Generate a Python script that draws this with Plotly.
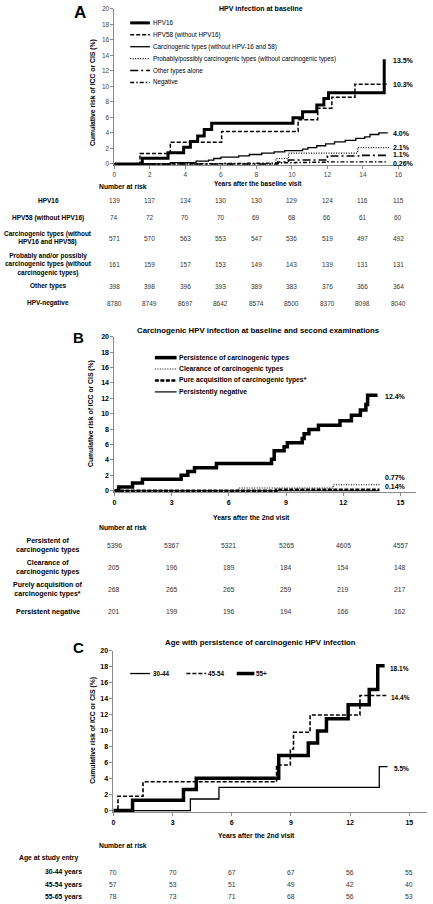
import plotly.graph_objects as go

W, H = 433, 904
FONT = "Liberation Sans"


def px(x):
    return x / W


def py(y):
    return 1 - y / H

# ---------------- Panel A data ----------------
a_ticks = [0, 2, 4, 6, 8, 10, 12, 14, 16]
a_series_names = ["HPV16", "HPV58 (without HPV16)", "Carcinogenic types (without HPV-16 and 58)",
                  "Probably/possibly carcinogenic types (without carcinogenic types)",
                  "Other types alone", "Negative"]
hpv16_t = [0, 1.57, 3.02, 3.9, 4.28, 4.69, 5.06, 5.48, 10.06, 10.6, 11.4, 11.8, 12.06, 15.2]
hpv16_r = [0, 0.72, 1.44, 2.16, 2.88, 3.6, 4.45, 5.25, 5.95, 6.75, 7.6, 8.45, 9.2, 13.5]
hpv58_t = [0, 1.44, 3.15, 6.04, 10.35, 11.45, 12.25, 13.55, 15.35]
hpv58_r = [0, 1.35, 2.8, 4.2, 5.7, 7.2, 8.6, 10.3, 10.3]
carc_t = [0, 3.15, 4.6, 5.3, 5.6, 6.0, 7.0, 7.6, 8.3, 9.0, 9.6, 10.6, 10.9, 11.4, 11.9, 12.4, 13.0, 13.6, 14.1, 14.4, 14.9, 15.4]
carc_r = [0, 0.18, 0.35, 0.5, 0.7, 0.88, 1.05, 1.22, 1.4, 1.55, 1.72, 1.9, 2.1, 2.35, 2.6, 2.85, 3.05, 3.3, 3.5, 3.8, 4.0, 4.0]
prob_t = [0, 9.1, 9.8, 13.7, 15.5]
prob_r = [0, 0.7, 1.4, 2.1, 2.1]
other_t = [0, 9.2, 9.8, 11.9, 12.0, 13.9, 15.4]
other_r = [0, 0.25, 0.5, 0.76, 1.02, 1.1, 1.1]
neg_t = [0, 3.2, 4.5, 6.2, 7.5, 8.6, 9.0, 9.4, 10.2, 11.0, 12.0, 15.4]
neg_r = [0, 0.02, 0.04, 0.06, 0.08, 0.1, 0.13, 0.16, 0.19, 0.22, 0.26, 0.26]
a_end_labels = ["13.5%", "10.3%", "4.0%", "2.1%", "1.1%", "0.26%"]

a_row_labels = ["HPV16", "HPV58 (without HPV16)", "Carcinogenic types (without<br>HPV16 and HPV58)",
                "Probably and/or possibly<br>carcinogenic types (without<br>carcinogenic types)",
                "Other types", "HPV-negative"]
a_risk = [
    [139, 137, 134, 130, 130, 129, 124, 116, 115],
    [74, 72, 70, 70, 69, 68, 66, 61, 60],
    [571, 570, 563, 553, 547, 536, 519, 497, 492],
    [161, 159, 157, 153, 149, 143, 139, 131, 131],
    [398, 398, 396, 393, 389, 383, 376, 366, 364],
    [8780, 8749, 8697, 8642, 8574, 8500, 8370, 8098, 8040],
]

# ---------------- Panel B data ----------------
b_ticks = [0, 3, 6, 9, 12, 15]
b_series_names = ["Persistence of carcinogenic types", "Clearance of carcinogenic types",
                  "Pure acquisition of carcinogenic types*", "Persistently negative"]
pers_t = [0, 0.22, 0.95, 1.47, 3.5, 3.85, 4.2, 5.35, 8.24, 8.38, 8.9, 9.07, 9.85, 9.95, 10.2, 10.7, 11.83, 12.43, 12.9, 13.19, 13.28, 13.8]
pers_r = [0, 0.5, 1.0, 1.5, 2.0, 2.5, 3.0, 3.55, 4.1, 5.2, 5.7, 6.25, 6.8, 7.4, 7.95, 8.5, 9.1, 9.8, 10.5, 11.2, 12.4, 12.4]
clear_t = [0, 6.5, 11.47, 13.9]
clear_r = [0, 0.35, 0.77, 0.77]
acq_t = [0, 8.5, 13.9]
acq_r = [0, 0.14, 0.14]
pneg_t = [0, 13.9]
pneg_r = [0, 0]
b_end_labels = ["12.4%", "0.77%", "0.14%"]

b_row_labels = ["Persistent of<br>carcinogenic types", "Clearance of<br>carcinogenic types",
                "Purely acquisition of<br>carcinogenic types*", "Persistent negative"]
b_risk = [
    [5396, 5367, 5321, 5265, 4605, 4557],
    [205, 196, 189, 184, 154, 148],
    [268, 265, 265, 259, 219, 217],
    [201, 199, 196, 194, 166, 162],
]

# ---------------- Panel C data ----------------
c_ticks = [0, 3, 6, 9, 12, 15]
c_series_names = ["30-44", "45-54", "55+"]
c30_t = [0, 3.9, 5.35, 13.48, 13.9]
c30_r = [0, 1.45, 2.9, 5.5, 5.5]
c45_t = [0, 0.23, 1.5, 8.27, 8.97, 9.13, 9.97, 12.5, 13.85]
c45_r = [0, 1.8, 3.6, 5.7, 7.7, 9.8, 11.95, 14.4, 14.4]
c55_t = [0, 0.97, 3.55, 4.2, 8.38, 9.88, 10.35, 10.8, 11.9, 12.97, 13.4, 13.75]
c55_r = [0, 1.3, 2.65, 4.05, 6.9, 8.45, 9.95, 11.5, 13.25, 15.15, 18.1, 18.1]
c_end_labels = ["5.5%", "14.4%", "18.1%"]

c_row_labels = ["30-44 years", "45-54 years", "55-65 years"]
c_risk = [
    [70, 70, 67, 67, 56, 55],
    [57, 53, 51, 49, 42, 40],
    [78, 73, 71, 68, 56, 53],
]

fig = go.Figure()
annotations = []
shapes = []


def add_step(t, r, xa, ya, width, dash="solid", color="black"):
    fig.add_trace(go.Scatter(x=t, y=r, mode="lines",
                             line=dict(shape="hv", width=width, dash=dash, color=color),
                             xaxis=xa, yaxis=ya, showlegend=False, hoverinfo="skip"))


def text(x, y, s, size=7, bold=False, xanchor="left", align="left", color="black", family=FONT, xref="paper"):
    annotations.append(dict(x=x if xref != "paper" else px(x), y=py(y), xref=xref, yref="paper",
                            text=s, showarrow=False, xanchor=xanchor, yanchor="middle", align=align,
                            borderpad=0,
                            font=dict(size=size, color=color, family=family,
                                      weight="bold" if bold else "normal")))


def legline(x0, x1, y, width, dash):
    shapes.append(dict(type="line", xref="paper", yref="paper", x0=px(x0), x1=px(x1),
                       y0=py(y), y1=py(y), line=dict(color="black", width=width, dash=dash)))


DASH = "4px,2px"
# ---------------- Panel A traces ----------------
a_styles = [(3, "solid"), (1.5, DASH), (1.3, "solid"), (1.1, "1px,1.5px"), (1.6, "8px,3px,2px,3px"),
            (1.4, "4px,2px,1.5px,2px")]
a_data = [(hpv16_t, hpv16_r), (hpv58_t, hpv58_r), (carc_t, carc_r), (prob_t, prob_r),
          (other_t, other_r), (neg_t, neg_r)]
for (t, r), (w, d) in zip(a_data, a_styles):
    add_step(t, r, "x", "y", w, d)

# ---------------- Panel B traces ----------------
b_styles = [(3.5, "solid"), (1.1, "1px,1.5px"), (2.5, "4px,1.5px"), (1.2, "solid")]
b_data = [(pers_t, pers_r), (clear_t, clear_r), (acq_t, acq_r), (pneg_t, pneg_r)]
for (t, r), (w, d) in zip(b_data, b_styles):
    add_step(t, r, "x2", "y2", w, d)

# ---------------- Panel C traces ----------------
c_styles = [(1.3, "solid"), (1.6, DASH), (3.5, "solid")]
c_data = [(c30_t, c30_r), (c45_t, c45_r), (c55_t, c55_r)]
for (t, r), (w, d) in zip(c_data, c_styles):
    add_step(t, r, "x3", "y3", w, d)

axis_common = dict(showline=True, linecolor="#8a8a8a", linewidth=1, ticks="outside", ticklen=3,
                   tickcolor="#8a8a8a", showgrid=False, zeroline=False, fixedrange=True)

aypu = (161 - 5) / 20
bypu = (490 - 335) / 20
cypu = (812 - 651) / 20
ylo = -0.2

fig.update_layout(
    width=W, height=H, margin=dict(l=0, r=0, t=0, b=0),
    paper_bgcolor="white", plot_bgcolor="white", showlegend=False,
    xaxis=dict(domain=[px(114), px(402)], range=[0, 16], tickvals=a_ticks, anchor="y",
               tickfont=dict(size=6.5, color="#444", family=FONT), **axis_common),
    yaxis=dict(domain=[py(161 - ylo * aypu), py(5)], range=[ylo, 20], tickvals=list(range(0, 21, 2)), anchor="x",
               tickfont=dict(size=6.5, color="#444", family=FONT), **axis_common),
    xaxis2=dict(domain=[px(114), px(420)], range=[0, 306 / ((404 - 114) / 15)], tickvals=b_ticks, anchor="y2",
                tickfont=dict(size=7, color="black", family=FONT, weight="bold"), **axis_common),
    yaxis2=dict(domain=[py(490 - ylo * bypu), py(335)], range=[ylo, 20], tickvals=list(range(0, 21, 2)), anchor="x2",
                tickfont=dict(size=7, color="black", family=FONT, weight="bold"), **axis_common),
    xaxis3=dict(domain=[px(113), px(431)], range=[0, 318 / 20], tickvals=c_ticks, anchor="y3",
                tickfont=dict(size=7, color="black", family=FONT, weight="bold"), **axis_common),
    yaxis3=dict(domain=[py(812 - ylo * cypu), py(651)], range=[ylo, 20], tickvals=list(range(0, 21, 2)), anchor="x3",
                tickfont=dict(size=7, color="black", family=FONT, weight="bold"), **axis_common),
)

# ---------------- Panel A text ----------------
text(79, 9, "A", size=17, bold=True, xanchor="center")
text(263, 5, "HPV infection at baseline", size=7, bold=True, xanchor="center")
text(260, 181, "Years after the baseline visit", size=6.5, bold=True, xanchor="center")
annotations.append(dict(x=px(93), y=py(89), xref="paper", yref="paper", text="Cumulative risk of ICC or CIS (%)",
                        showarrow=False, textangle=-90, xanchor="center", yanchor="middle",
                        font=dict(size=6.8, family=FONT, weight="bold", color="black")))
a_leg_y = [19, 31, 43, 55, 67, 79]
for name, (w, d), yy in zip(a_series_names, a_styles, a_leg_y):
    legline(130, 150, yy, w, d)
    text(152, yy, name, size=6.3)
a_end_y = [57, 81, 130, 144.5, 151.5, 161]
for lab, yy in zip(a_end_labels, a_end_y):
    text(395, yy, lab, size=7, bold=True)
text(97, 184, "Number at risk", size=6.8, bold=True)
a_row_y = [198, 215, 236, 262, 284, 301]
for lab, row, yy in zip(a_row_labels, a_risk, a_row_y):
    text(47, yy, lab, size=6.5, bold=True, xanchor="center", align="center")
    for tk, v in zip(a_ticks, row):
        text(tk, yy, str(v), size=6.5, xanchor="center", color="#333", xref="x")

# ---------------- Panel B text ----------------
text(78, 336, "B", size=15, bold=True, xanchor="center")
text(260, 329, "Carcinogenic HPV infection at baseline and second examinations", size=7.8, bold=True, xanchor="center")
text(253, 517, "Years after the 2nd visit", size=6.8, bold=True, xanchor="center")
annotations.append(dict(x=px(91), y=py(412), xref="paper", yref="paper", text="Cumulative risk of ICC or CIS (%)",
                        showarrow=False, textangle=-90, xanchor="center", yanchor="middle",
                        font=dict(size=6.8, family=FONT, weight="bold", color="black")))
b_leg_y = [356, 367.5, 379, 390.5]
for name, (w, d), yy in zip(b_series_names, b_styles, b_leg_y):
    legline(155, 177, yy, w, d)
    text(178, yy, name, size=6.8, bold=True)
b_end_y = [395, 477, 486]
for lab, yy in zip(b_end_labels, b_end_y):
    text(387, yy, lab, size=7, bold=True)
text(97, 527, "Number at risk", size=6.8, bold=True)
b_row_y = [545, 567, 589, 612]
for lab, row, yy in zip(b_row_labels, b_risk, b_row_y):
    text(47, yy, lab, size=7, bold=True, xanchor="center", align="center")
    for tk, v in zip(b_ticks, row):
        text(tk, yy, str(v), size=6.8, xanchor="center", color="#333", xref="x2")

# ---------------- Panel C text ----------------
text(78, 648, "C", size=15, bold=True, xanchor="center")
text(262, 643, "Age with persistence of carcinogenic HPV infection", size=7.8, bold=True, xanchor="center")
text(258, 837, "Years after the 2nd visit", size=6.8, bold=True, xanchor="center")
annotations.append(dict(x=px(92), y=py(731), xref="paper", yref="paper", text="Cumulative risk of ICC or CIS (%)",
                        showarrow=False, textangle=-90, xanchor="center", yanchor="middle",
                        font=dict(size=6.8, family=FONT, weight="bold", color="black")))
c_leg_x = [(130, 150, 152), (187, 207, 208), (238, 256, 257)]
for name, (w, d), (x0, x1, xt) in zip(c_series_names, c_styles, c_leg_x):
    legline(x0, x1, 674, w, d)
    text(xt, 674, name, size=6.3, bold=True)
c_end_pos = [(396, 770), (393, 698), (392, 669)]
for lab, (xx, yy) in zip(c_end_labels, c_end_pos):
    text(xx, yy, lab, size=6.5, bold=True)
text(97, 847, "Number at risk", size=6.8, bold=True)
text(16, 860, "Age at study entry", size=6.8, bold=True)
c_row_y = [874, 886.5, 898.5]
for lab, row, yy in zip(c_row_labels, c_risk, c_row_y):
    text(82, yy, lab, size=6.8, bold=True, xanchor="right", align="right")
    for tk, v in zip(c_ticks, row):
        text(tk, yy, str(v), size=6.8, xanchor="center", color="#333", xref="x3")

fig.update_layout(annotations=annotations, shapes=shapes)
fig.write_html("out.html", config={"displayModeBar": False},
               post_script="document.body.style.margin='0';document.body.style.padding='0';"
                           "document.documentElement.style.margin='0';")
